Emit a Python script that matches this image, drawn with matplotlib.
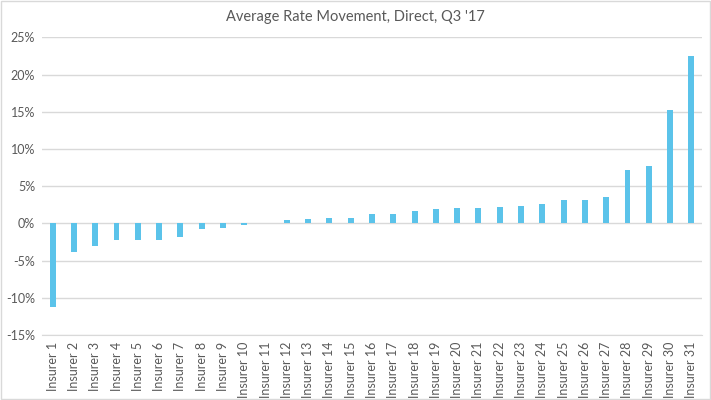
import numpy as np
import matplotlib.pyplot as plt
from matplotlib.ticker import FuncFormatter, MultipleLocator

plt.rcParams['font.family'] = ['Lato', 'DejaVu Sans']

insurers = ['Insurer %d' % i for i in range(1, 32)]
rate_change = [-11.3, -3.8, -3.0, -2.3, -2.2, -2.2, -1.8, -0.7, -0.6, -0.2,
               0.0, 0.5, 0.55, 0.7, 0.75, 1.2, 1.2, 1.7, 1.9, 2.1,
               2.1, 2.2, 2.35, 2.6, 3.1, 3.2, 3.5, 7.2, 7.7, 15.2, 22.5]

text_col = '#595959'
grid_col = '#D9D9D9'
bar_col = '#5BC3EA'

fig = plt.figure(figsize=(7.11, 4.0), dpi=100)
ax = fig.add_axes([42 / 711, 65 / 400, 660 / 711, 297.7 / 400])

x = np.arange(len(insurers))
ax.bar(x, np.array(rate_change) / 100, width=0.28, color=bar_col, zorder=3)

ax.set_xlim(-0.5, len(insurers) - 0.5)
ax.set_ylim(-0.15, 0.25)
ax.yaxis.set_major_locator(MultipleLocator(0.05))
ax.yaxis.set_major_formatter(FuncFormatter(lambda v, p: '%d%%' % round(v * 100)))
ax.grid(axis='y', color=grid_col, linewidth=1, zorder=0)
ax.set_xticks(x)
ax.set_xticklabels(insurers, rotation=90, fontsize=9, color=text_col)
for lab in ax.get_yticklabels():
    lab.set_fontsize(9)
    lab.set_color(text_col)
ax.tick_params(axis='both', length=0, pad=5)
for s in ['top', 'right', 'left']:
    ax.spines[s].set_visible(False)
ax.spines['bottom'].set_color(grid_col)

fig.text(0.5, 1 - 17 / 400, "Average Rate Movement, Direct, Q3 '17",
         ha='center', va='center', fontsize=10.5, color=text_col)

# light border round the chart
fig.patches.append(plt.Rectangle((0.001, 0.002), 0.997, 0.995, transform=fig.transFigure,
                                 fill=False, edgecolor=grid_col, linewidth=1))

fig.savefig('out.png', dpi=100)
